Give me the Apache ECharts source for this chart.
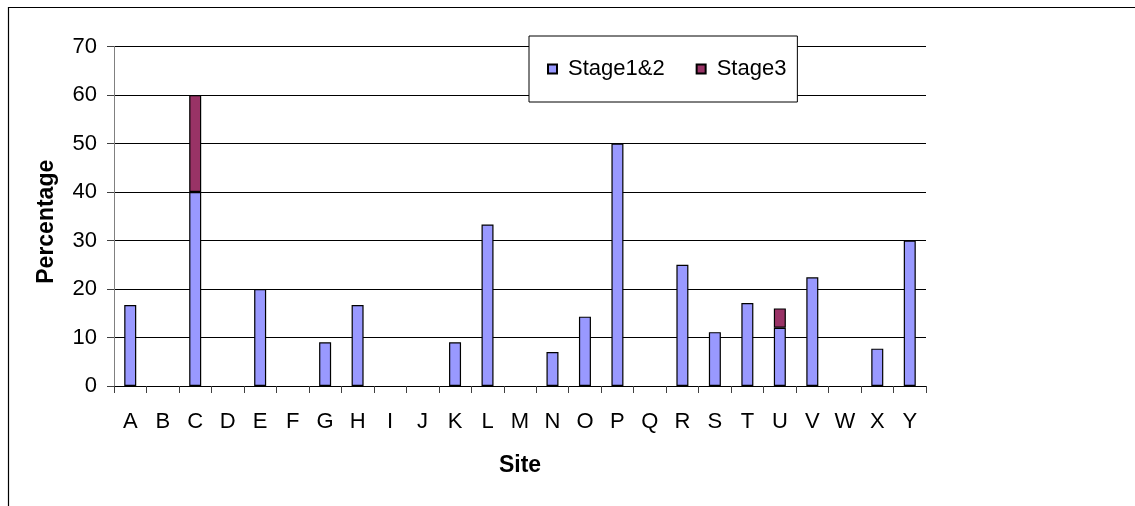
<!DOCTYPE html>
<html>
<head>
<meta charset="utf-8">
<script src="https://cdn.jsdelivr.net/npm/echarts@6/dist/echarts.min.js"></script>
<style>
html,body{margin:0;padding:0;background:#fff;}
#chart{width:1135px;height:506px;}
</style>
</head>
<body>
<div id="chart"></div>
<script>
const categories = ['A','B','C','D','E','F','G','H','I','J','K','L','M','N','O','P','Q','R','S','T','U','V','W','X','Y'];
const stage12 = [16.7, null, 40, null, 20, null, 9, 16.7, null, null, 9, 33.3, null, 7, 14.3, 50, null, 25, 11.1, 17.1, 12, 22.4, null, 7.7, 30];
const stage3  = [null, null, 20, null, null, null, null, null, null, null, null, null, null, null, null, null, null, null, null, null, 4, null, null, null, null];
const yTicks = {min: 0, max: 70, interval: 10};

const FONT = "'Liberation Sans', Arial, sans-serif";
const chart = echarts.init(document.getElementById('chart'), null, {renderer: 'canvas'});
chart.setOption({
  animation: false,
  backgroundColor: '#fff',
  textStyle: {fontFamily: FONT},
  graphic: [{
    type: 'polyline',
    shape: {points: [[8.5, 510], [8.5, 7.5], [1140, 7.5]]},
    style: {stroke: '#000', lineWidth: 1.2, fill: null},
    z: 100
  }],
  grid: {left: 114, right: 209, top: 46.5, bottom: 120, containLabel: false},
  legend: {
    left: 529, top: 36,
    padding: [22, 11, 22, 18],
    itemWidth: 9, itemHeight: 9,
    itemGap: 31,
    borderColor: '#000', borderWidth: 1,
    backgroundColor: '#fff',
    icon: 'rect',
    textStyle: {fontSize: 22, color: '#000', fontFamily: FONT, padding: [0, 0, 0, 6]},
    data: ['Stage1&2', 'Stage3']
  },
  xAxis: {
    type: 'category',
    data: categories,
    name: 'Site',
    nameLocation: 'middle',
    nameGap: 68,
    nameTextStyle: {fontSize: 23, fontWeight: 'bold', color: '#000', fontFamily: FONT},
    axisLine: {show: true, lineStyle: {color: '#000', width: 1}},
    axisTick: {show: true, length: 7, lineStyle: {color: '#404040'}},
    axisLabel: {fontSize: 22, color: '#000', margin: 25, interval: 0, fontFamily: FONT},
    splitLine: {show: false}
  },
  yAxis: {
    type: 'value',
    min: yTicks.min, max: yTicks.max, interval: yTicks.interval,
    name: 'Percentage',
    nameLocation: 'middle',
    nameGap: 56,
    nameRotate: 90,
    nameTextStyle: {fontSize: 23, fontWeight: 'bold', color: '#000', fontFamily: FONT, padding: [0, 11, 0, 0]},
    axisLine: {show: true, lineStyle: {color: '#808080', width: 1}},
    axisTick: {show: true, length: 7, lineStyle: {color: '#404040'}},
    axisLabel: {fontSize: 22, color: '#000', margin: 17, fontFamily: FONT},
    splitLine: {show: true, lineStyle: {color: '#000', width: 1}}
  },
  series: [
    {
      name: 'Stage1&2', type: 'bar', stack: 'total', data: stage12,
      barWidth: 12,
      itemStyle: {color: '#9999FF', borderColor: '#000', borderWidth: 1.2}
    },
    {
      name: 'Stage3', type: 'bar', stack: 'total', data: stage3,
      barWidth: 12,
      itemStyle: {color: '#993366', borderColor: '#000', borderWidth: 1.2}
    }
  ]
});
</script>
</body>
</html>
